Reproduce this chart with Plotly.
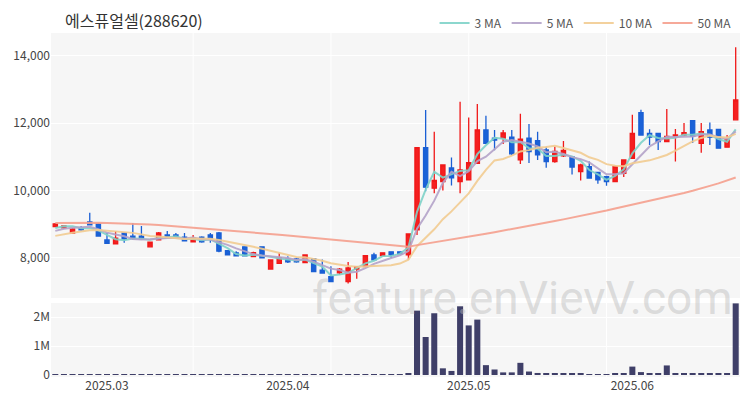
import pandas as pd
import plotly.graph_objects as go

# ---------------- data ----------------
start_date = "2025-02-21"
end_date = "2025-06-20"
holidays = ["2025-03-03", "2025-05-01", "2025-05-05", "2025-05-06", "2025-06-03", "2025-06-06"]
dates = [d.strftime("%Y-%m-%d") for d in pd.bdate_range(start_date, end_date)
         if d.strftime("%Y-%m-%d") not in holidays]

opens = [8930, 8890, 8740, 8890, 9070, 9010, 8535, 8420, 8740, 8650,
         8650, 8330, 8540, 8680, 8680, 8620, 8480, 8620, 8680, 8740,
         8215, 8150, 8330, 8040, 8330, 7670, 7840, 7970, 7970, 7860,
         7970, 7640, 7445, 7560, 7300, 7670, 7740, 8090, 8070, 8180,
         8180, 8090, 8830, 11275, 10070, 10270, 10670, 10270, 10317, 10810,
         11800, 11560, 11560, 11590, 10910, 11560, 11480, 11208, 10860, 11030,
         11000, 10560, 10710, 10540, 10415, 10270, 10515, 10960, 12316, 11700,
         11700, 11455, 11600, 11650, 12080, 11400, 11800, 11820, 11290, 12100]
highs = [9040, 8970, 8890, 8950, 9340, 9040, 8740, 8800, 8770, 9040,
         8950, 8480, 8770, 8800, 8740, 8740, 8680, 8640, 8740, 8770,
         8230, 8200, 8340, 8180, 8340, 7950, 8150, 8050, 8000, 8100,
         7980, 7950, 7750, 7700, 7880, 7760, 8080, 8150, 8160, 8190,
         8200, 8720, 11275, 12396, 11750, 10780, 10980, 12640, 12167, 12574,
         12220, 11800, 11800, 11800, 12280, 11980, 11750, 11300, 11300, 11475,
         11020, 10800, 10860, 10560, 10440, 10740, 10920, 12250, 12400, 11820,
         11710, 12425, 11830, 12010, 12090, 12010, 12020, 11830, 11650, 14260]
lows = [8910, 8860, 8730, 8810, 8960, 8640, 8420, 8410, 8450, 8540,
        8535, 8320, 8530, 8590, 8570, 8500, 8470, 8450, 8450, 8170,
        8080, 8050, 8050, 8030, 7990, 7660, 7830, 7850, 7860, 7850,
        7580, 7540, 7280, 7500, 7240, 7380, 7730, 7930, 8060, 8000,
        8100, 7950, 8680, 9980, 9920, 10000, 10150, 9920, 10300, 10800,
        11400, 11200, 11380, 11050, 10790, 10820, 10910, 10680, 10830, 11000,
        10480, 10300, 10350, 10200, 10140, 10260, 10400, 10940, 11640, 11350,
        11208, 11440, 10860, 11610, 11410, 11120, 11356, 11250, 11280, 12080]
closes = [9010, 8950, 8860, 8830, 8980, 8650, 8430, 8590, 8560, 8580,
          8560, 8470, 8740, 8600, 8580, 8510, 8590, 8480, 8580, 8200,
          8090, 8060, 8060, 8160, 8000, 7940, 8010, 7880, 7880, 8090,
          7590, 7550, 7300, 7670, 7700, 7740, 8070, 7940, 8150, 8090,
          8120, 8710, 11275, 10100, 10300, 10760, 10376, 10614, 10830, 11800,
          11406, 11500, 11710, 11090, 11530, 11160, 11060, 10860, 11160, 11190,
          10700, 10760, 10370, 10320, 10270, 10710, 10910, 11700, 11650, 11585,
          11455, 11610, 11650, 11720, 11610, 11750, 11585, 11260, 11505, 12690]
volumes = [3000, 2500, 2000, 2500, 7000, 4500, 3500, 3000, 2500, 4000,
           3000, 2500, 5000, 2500, 2000, 2000, 2000, 2000, 2500, 5500,
           4000, 2500, 3000, 2000, 3500, 6000, 4500, 2500, 2000, 3000,
           5000, 3000, 4000, 3500, 6500, 4000, 5500, 3000, 2500, 2500,
           3000, 60000, 2220000, 1310000, 2130000, 230000, 140000, 2370000, 1710000, 1910000,
           340000, 190000, 90000, 90000, 420000, 120000, 70000, 50000, 50000, 40000,
           50000, 40000, 30000, 30000, 30000, 50000, 60000, 290000, 100000, 60000,
           50000, 330000, 60000, 50000, 50000, 50000, 50000, 50000, 40000, 2470000]
# closes of the nine sessions before the first visible candle (estimated)
prior_closes = [8420, 8480, 8460, 8560, 8610, 8640, 8720, 8790, 8860]
# 50-day moving average
ma50 = [9040, 9045, 9045, 9045, 9048, 9045, 9040, 9035, 9030, 9025,
        9015, 8995, 8975, 8955, 8935, 8920, 8905, 8890, 8870, 8850,
        8825, 8800, 8780, 8755, 8735, 8710, 8690, 8665, 8640, 8615,
        8590, 8565, 8540, 8515, 8490, 8465, 8440, 8415, 8390, 8365,
        8340, 8335, 8380, 8420, 8465, 8505, 8550, 8590, 8635, 8680,
        8720, 8765, 8810, 8850, 8895, 8945, 8995, 9045, 9095, 9145,
        9195, 9245, 9295, 9350, 9410, 9470, 9525, 9580, 9635, 9690,
        9750, 9810, 9870, 9930, 9995, 10060, 10140, 10215, 10300, 10390]

tick_dates = ["2025-03-04", "2025-04-02", "2025-05-02", "2025-06-02"]
tick_labels = ["2025.03", "2025.04", "2025.05", "2025.06"]
grid_dates = ["2025-03-18", "2025-04-09", "2025-05-02", "2025-05-28"]

ma_periods = [3, 5, 10]
ma_names = ["3 MA", "5 MA", "10 MA", "50 MA"]
ma_colors = ["#7fd3c9", "#b4a3c9", "#f2cc92", "#f5a08e"]

# ---------------- figure ----------------
all_closes = pd.Series(prior_closes + closes)
ma_series = [all_closes.rolling(p).mean().iloc[len(prior_closes):].tolist() for p in ma_periods]
ma_series.append(ma50)

fig = go.Figure()

fig.add_trace(go.Candlestick(
    x=dates, open=opens, high=highs, low=lows, close=closes,
    increasing=dict(line=dict(color="#f01818", width=1.3), fillcolor="#f52020"),
    decreasing=dict(line=dict(color="#1a5fd4", width=1.3), fillcolor="#1a62d8"),
    whiskerwidth=0, showlegend=False, xaxis="x", yaxis="y", name="price"))

for name, color, vals in zip(ma_names, ma_colors, ma_series):
    fig.add_trace(go.Scatter(
        x=dates, y=vals, mode="lines", name=name,
        line=dict(color=color, width=2), opacity=0.9,
        xaxis="x", yaxis="y"))

fig.add_trace(go.Bar(
    x=dates, y=volumes, marker=dict(color="#3f3f68", line=dict(width=0)),
    showlegend=False, xaxis="x", yaxis="y2", name="volume"))

shapes = [
    dict(type="rect", xref="paper", yref="y domain", x0=0, x1=1, y0=0, y1=1,
         fillcolor="#f6f6f6", line=dict(width=0), layer="below"),
    dict(type="rect", xref="paper", yref="y2 domain", x0=0, x1=1, y0=0, y1=1,
         fillcolor="#f6f6f6", line=dict(width=0), layer="below"),
]
for gd in grid_dates:
    for yr in ["y domain", "y2 domain"]:
        shapes.append(dict(type="line", xref="x", yref=yr, x0=gd, x1=gd, y0=0, y1=1,
                           line=dict(color="#ffffff", width=1), layer="below"))

font_family = "Noto Sans CJK KR, Noto Sans, sans-serif"

fig.update_layout(
    width=750, height=400,
    margin=dict(l=51, r=10, t=33, b=23, autoexpand=False),
    paper_bgcolor="white", plot_bgcolor="white",
    font=dict(family=font_family, color="#444", size=12),
    shapes=shapes,
    bargap=0.3, boxgap=0.3,
    xaxis=dict(type="category", anchor="y2", domain=[0, 1],
               range=[-0.5, len(dates) - 0.5], autorange=False,
               tickvals=tick_dates, ticktext=tick_labels,
               showgrid=False, zeroline=False, showline=False, ticks="",
               rangeslider=dict(visible=False), automargin=False,
               tickfont=dict(size=12, color="#444")),
    yaxis=dict(domain=[0.2297, 1], range=[6810, 14680], dtick=2000, tick0=0,
               tickformat=",d", showgrid=True, gridcolor="#ffffff", gridwidth=1,
               zeroline=False, showline=False, ticks="", automargin=False,
               tickfont=dict(size=12, color="#444")),
    yaxis2=dict(domain=[0, 0.2151], range=[-69000, 2483000],
                tickvals=[0, 1000000, 2000000], ticktext=["0", "1M", "2M"],
                showgrid=True, gridcolor="#ffffff", gridwidth=1,
                zeroline=False, showline=False, ticks="", automargin=False,
                tickfont=dict(size=12, color="#444")),
    legend=dict(orientation="h", x=0.995, xanchor="right",
                yref="container", y=0.9425, yanchor="middle",
                font=dict(size=12, color="#555"), bgcolor="rgba(0,0,0,0)",
                itemwidth=30, tracegroupgap=0),
    annotations=[
        dict(text="에스퓨얼셀(288620)", xref="paper", yref="paper",
             x=0.0174, y=1.038, xanchor="left", yanchor="middle", showarrow=False,
             font=dict(size=16, color="#333", family=font_family)),
        dict(text="feature.enVievV.com", xref="paper", yref="paper",
             x=0.685, y=0.23, xanchor="center", yanchor="middle", showarrow=False,
             font=dict(size=46, color="rgba(185,185,185,0.45)", family="Roboto, sans-serif")),
    ],
)

fig.write_html("out.html", config={"displayModeBar": False},
               post_script="document.body.style.margin='0';")
